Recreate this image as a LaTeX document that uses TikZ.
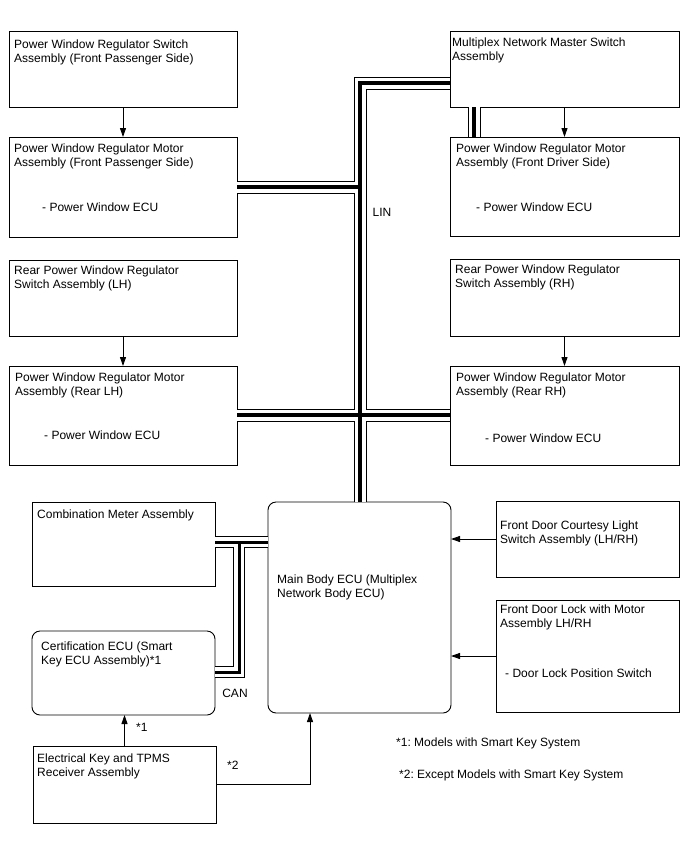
\documentclass[tikz,border=0pt]{standalone}
\usepackage{fontspec}
\setmainfont{Liberation Sans}
\usepackage{tikz}
\usetikzlibrary{arrows.meta}
\frenchspacing

\begin{document}
\begin{tikzpicture}[x=1pt,y=-1pt,
     >={Triangle[length=9pt,width=6pt]},
     every node/.style={font=\fontsize{12}{14}\selectfont},
     unit/.style={draw,line width=0.9pt,anchor=north west,inner sep=0pt,outer sep=0pt},
     ecu/.style={unit,rounded corners=8pt},
     txt/.style={anchor=north west,align=left,inner sep=0pt},
     sub/.style={anchor=west,inner sep=0pt},
     sig/.style={line width=0.9pt,->}]
    \useasboundingbox (0,0) rectangle (688,852);
    % left column
    \node[unit,minimum width=228pt,minimum height=76pt] (pwsw)  at (9,31)  {};
    \node[unit,minimum width=228pt,minimum height=100pt] (pwmfp) at (9,137) {};
    \node[unit,minimum width=228pt,minimum height=76pt] (rsl)   at (9,260) {};
    \node[unit,minimum width=228pt,minimum height=99pt] (pwmrl) at (9,366) {};
    % right column
    \node[unit,minimum width=229pt,minimum height=76pt] (mms)   at (450,31)  {};
    \node[unit,minimum width=229pt,minimum height=99pt] (pwmfd) at (450,137) {};
    \node[unit,minimum width=229pt,minimum height=77pt] (rsr)   at (450,259) {};
    \node[unit,minimum width=229pt,minimum height=99pt] (pwmrr) at (450,366) {};
    % bottom part
    \node[unit,minimum width=183pt,minimum height=84pt]  (cmeter) at (32,502)  {};
    \node[ecu,minimum width=183pt,minimum height=84pt]   (cert)   at (32,631)  {};
    \node[unit,minimum width=183pt,minimum height=77pt]  (ekey)   at (33,746)  {};
    \node[ecu,minimum width=183pt,minimum height=211pt]  (mbecu)  at (268,502) {};
    \node[unit,minimum width=183pt,minimum height=76pt]  (fdcl)   at (496,501) {};
    \node[unit,minimum width=183pt,minimum height=112pt] (fdlm)   at (496,600) {};

    \node[txt] (t-pwsw)  at (14,40)  {Power Window Regulator Switch\\Assembly (Front Passenger Side)};
    \node[txt] (t-pwmfp) at (14,144) {Power Window Regulator Motor\\Assembly (Front Passenger Side)};
    \node[sub] (s-pwmfp) at (42,207) {- Power Window ECU};
    \node[txt] (t-rsl)   at (14,266) {Rear Power Window Regulator\\Switch Assembly (LH)};
    \node[txt] (t-pwmrl) at (15,373) {Power Window Regulator Motor\\Assembly (Rear LH)};
    \node[sub] (s-pwmrl) at (44,435) {- Power Window ECU};
    \node[txt] (t-mms)   at (452,38)  {Multiplex Network Master Switch\\Assembly};
    \node[txt] (t-pwmfd) at (456,144) {Power Window Regulator Motor\\Assembly (Front Driver Side)};
    \node[sub] (s-pwmfd) at (476,207) {- Power Window ECU};
    \node[txt] (t-rsr)   at (455,265) {Rear Power Window Regulator\\Switch Assembly (RH)};
    \node[txt] (t-pwmrr) at (456,373) {Power Window Regulator Motor\\Assembly (Rear RH)};
    \node[sub] (s-pwmrr) at (485,438) {- Power Window ECU};
    \node[txt] (t-cmeter) at (37,510)  {Combination Meter Assembly};
    \node[txt] (t-cert)   at (41,642)  {Certification ECU (Smart\\Key ECU Assembly)*1};
    \node[txt] (t-ekey)   at (37,754)  {Electrical Key and TPMS\\Receiver Assembly};
    \node[txt] (t-mbecu)  at (277,575) {Main Body ECU (Multiplex\\Network Body ECU)};
    \node[txt] (t-fdcl)   at (500,521) {Front Door Courtesy Light\\Switch Assembly (LH/RH)};
    \node[txt] (t-fdlm)   at (500,605) {Front Door Lock with Motor\\Assembly LH/RH};
    \node[sub] (s-fdlm)   at (505,673) {- Door Lock Position Switch};

    % LIN and CAN buses
    \coordinate (lintop)  at (360,83);
    \coordinate (linfp)   at (360,187);
    \coordinate (linrear) at (360,415);
    \coordinate (linmms)  at (474,107);
    \coordinate (canj)    at (239,542);
    \coordinate (cancert) at (239,672);
    \foreach \w/\c in {13/black,11/white,4/black}{
      \draw[line width=\w pt,\c] (lintop -| mms.west) -- (lintop) -- (lintop |- mbecu.north);
      \draw[line width=\w pt,\c] (linfp -| pwmfp.east) -- (linfp);
      \draw[line width=\w pt,\c] (linrear -| pwmrl.east) -- (linrear -| pwmrr.west);
      \draw[line width=\w pt,\c] (linmms |- mms.south) -- (linmms |- pwmfd.north);
    }
    \foreach \w/\c in {12/black,10/white,3/black}{
      \draw[line width=\w pt,\c] (canj -| cmeter.east) -- (canj -| mbecu.west);
      \draw[line width=\w pt,\c] (canj) -- (cancert) -- (cancert -| cert.east);
    }
    \node (lin) at (382,212) {LIN};
    \node (can) at (235,693) {CAN};

    \draw[sig] (pwsw.south) -- (pwmfp.north);
    \draw[sig] (rsl.south) -- (pwmrl.north);
    \draw[sig] (mms.south) -- (pwmfd.north);
    \draw[sig] (rsr.south) -- (pwmrr.north);
    \draw[sig] (fdcl.west) -- (fdcl.west -| mbecu.east);
    \draw[sig] (fdlm.west) -- (fdlm.west -| mbecu.east);
    \draw[sig] (ekey.north) -- (ekey.north |- cert.south);
    \draw[sig] (ekey.east) -| ([xshift=-49.5pt]mbecu.south);
    \node[sub] (k1) at (136,727) {*1};
    \node[sub] (k2) at (227,765) {*2};

    \node[sub] (note1) at (396,743) {*1: Models with Smart Key System};
    \node[sub] (note2) at (399,775) {*2: Except Models with Smart Key System};
  \end{tikzpicture}
\end{document}
